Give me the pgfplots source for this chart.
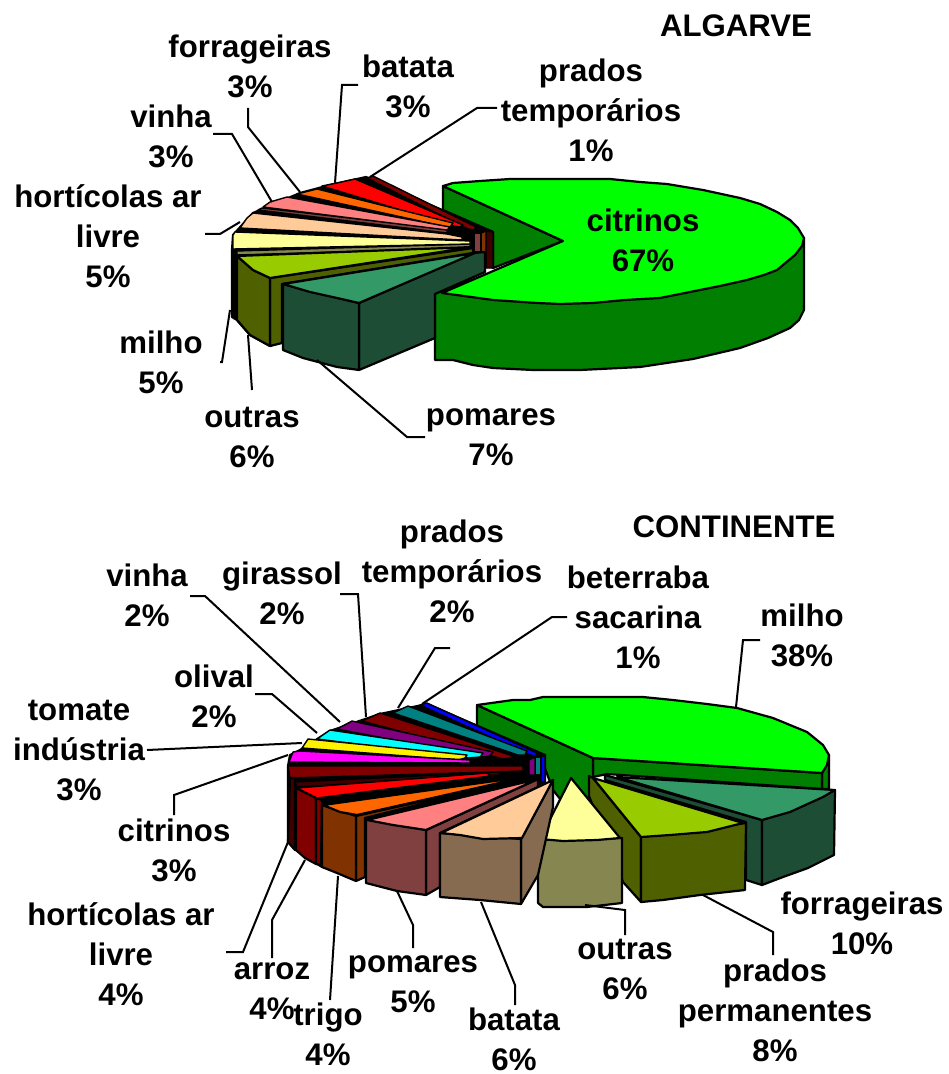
\documentclass[border=0pt]{standalone}
\usepackage{pgfplots}
\pgfplotsset{compat=1.18}
\usepackage{fontspec}
\setmainfont{Liberation Sans}
\definecolor{gtop}{HTML}{00FF00}
\definecolor{gwall}{HTML}{007F00}
\definecolor{teal1}{HTML}{339966}
\definecolor{teal2}{HTML}{1E4D36}
\definecolor{lime1}{HTML}{99CC00}
\definecolor{lime2}{HTML}{4F6000}
\definecolor{yel1}{HTML}{FFFF99}
\definecolor{yel2}{HTML}{868650}
\definecolor{pea1}{HTML}{FFCC99}
\definecolor{pea2}{HTML}{866B50}
\definecolor{pnk1}{HTML}{FF8080}
\definecolor{pnk2}{HTML}{804040}
\definecolor{org1}{HTML}{FF6600}
\definecolor{org2}{HTML}{803300}
\definecolor{drd}{HTML}{800000}
\definecolor{drd2}{HTML}{400000}
\definecolor{pur}{HTML}{800080}
\definecolor{tl}{HTML}{008080}
\definecolor{cy}{HTML}{00FFFF}
\definecolor{mg}{HTML}{FF00FF}
\pgfplotsset{
  face/.style={draw=black, line width=1.1pt, line join=round, mark=none, fill=#1},
  thin face/.style={draw=black, line width=0.7pt, line join=round, mark=none, fill=#1},
  lead/.style={draw=black, line width=1pt, mark=none, line join=miter},
}
\tikzset{lab/.style={font=\fontsize{15.6}{20}\selectfont\bfseries, align=center, inner sep=0pt, text=black}}
\begin{document}
\begin{tikzpicture}
\begin{axis}[
  scale only axis, width=474pt, height=537pt,
  xmin=0, xmax=948, ymin=0, ymax=1074,
  y dir=reverse, hide axis, clip=false,
]
\path (axis cs:0,0) rectangle (axis cs:948,1074);

% ---------- ALGARVE: citrinos
\addplot[face=gwall] coordinates {(435,293)(435,360)(453,360)(473,365)(493,368)(533,370)(580,370)(640,367)(693,359)(740,348)(768,338)(790,328)(799,320)(804,310)(804,238)(560,250)} --cycle;
\addplot[face=gwall] coordinates {(443,186)(563,241)(493,268)(493,232)(443,210)} --cycle;
\addplot[face=gtop] coordinates {(443,186)(453,183)(480,181)(510,179)(560,179)(610,179)(640,182)(667,184)(703,190)(740,198)(760,204)(777,212)(790,220)(798,228)(804,238)(802,246)(795,255)(777,270)(764,275)(747,280)(720,286)(690,292)(660,298)(625,300)(593,303)(560,304)(537,303)(493,300)(442,293)(563,241)} --cycle;

% fan behind the small slices
\addplot[face=black] coordinates {(232,250)(233,235)(253,213)(300,193)(330,185)(366,177)(493,232)(493,268)(473,253)(270,346)(250,335)(237,320)(232,317)} --cycle;
\addplot[thin face=drd2] coordinates {(486,231)(493,232)(493,268)(486,268)} --cycle;
\addplot[thin face=org2] coordinates {(481,233)(486,231)(486,268)(481,268)} --cycle;
\addplot[thin face=pnk2] coordinates {(474,233)(481,233)(481,252)(474,252)} --cycle;
\addplot[thin face=drd] coordinates {(367,178)(373,176)(476,227)(474,230)(468,229)} --cycle;
\addplot[thin face=red] coordinates {(322,186)(337,183)(355,179)(463,225)(460,227)(453,226)} --cycle;
\addplot[thin face=org1] coordinates {(297,194)(317,189)(453,223)(450,227)(447,227)} --cycle;
\addplot[thin face=pnk2] coordinates {(258,210)(262,208)(447,229)(447,233)} --cycle;
\addplot[thin face=pnk1] coordinates {(263,207)(270,202)(287,197)(450,227)(447,230)} --cycle;
\addplot[thin face=pea1] coordinates {(240,228)(247,218)(253,213)(447,234)(462,237)(462,240)} --cycle;
\addplot[thin face=yel2] coordinates {(237,251)(470,244)(470,248)(237,255)} --cycle;
\addplot[thin face=yel1] coordinates {(233,249)(233,235)(235,232)(470,241)(470,244)} --cycle;
\addplot[face=lime2] coordinates {(270,278)(473,248)(473,253)(282,284)(282,343)(270,346)} --cycle;
\addplot[face=lime2] coordinates {(237,256)(253,270)(270,278)(270,346)(250,335)(237,320)} --cycle;
\addplot[face=lime1] coordinates {(237,256)(473,247)(270,278)(253,270)} --cycle;
\addplot[face=teal2] coordinates {(359,303)(473,253)(485,252)(485,272)(435,294)(435,338)(359,370)} --cycle;
\addplot[face=teal2] coordinates {(283,284)(283,350)(303,358)(337,367)(359,370)(359,303)} --cycle;
\addplot[face=teal1] coordinates {(283,284)(310,292)(337,298)(359,303)(475,253)} --cycle;

% leaders
\addplot[lead] coordinates {(248,108)(248,127)(300,192)};
\addplot[lead] coordinates {(213,134)(232,134)(272,202)};
\addplot[lead] coordinates {(358,85)(342,85)(335,183)};
\addplot[lead] coordinates {(497,108)(477,108)(370,177)};
\addplot[lead] coordinates {(205,234)(220,234)(240,222)};
\addplot[lead] coordinates {(220,362)(222,362)(230,310)};
\addplot[lead] coordinates {(252,390)(248,335)};
\addplot[lead] coordinates {(425,437)(407,437)(317,360)};

\node[lab] at (axis cs:736,26) {ALGARVE};
\node[lab] at (axis cs:250,66) {forrageiras\\3\%};
\node[lab] at (axis cs:408,86) {batata\\3\%};
\node[lab] at (axis cs:591,110) {prados\\temporários\\1\%};
\node[lab] at (axis cs:171,136) {vinha\\3\%};
\node[lab] at (axis cs:108,236) {hortícolas ar\\livre\\5\%};
\node[lab] at (axis cs:643,240) {citrinos\\67\%};
\node[lab] at (axis cs:161,362) {milho\\5\%};
\node[lab] at (axis cs:252,437) {outras\\6\%};
\node[lab] at (axis cs:491,437) {pomares\\7\%};

% ---------- CONTINENTE: milho
\addplot[face=gwall] coordinates {(822,773)(822,789)(829,789)(829,755)} --cycle;
\addplot[face=gwall] coordinates {(593,758)(822,773)(822,789)(607,774)(593,777)} --cycle;
\addplot[face=gwall] coordinates {(477,705)(593,758)(593,785)(590,800)(565,805)(553,790)(540,755)(477,727)} --cycle;
\addplot[face=gtop] coordinates {(477,705)(513,700)(530,700)(543,697)(643,697)(673,700)(707,704)(737,708)(773,718)(807,732)(823,745)(829,755)(827,765)(822,773)(593,758)} --cycle;

% fan behind the small slices
\addplot[face=black] coordinates {(288,766)(290,755)(300,750)(330,731)(380,714)(427,704)(545,755)(545,782)(322,867)(296,850)(288,842)} --cycle;
\addplot[thin face=blue] coordinates {(541,757)(545,755)(545,782)(541,782)} --cycle;
\addplot[thin face=tl] coordinates {(535,757)(541,757)(541,775)(535,775)} --cycle;
\addplot[thin face=pur] coordinates {(529,760)(535,757)(535,775)(529,775)} --cycle;
\addplot[thin face=blue] coordinates {(420,705)(427,703)(537,753)(535,756)(530,755)} --cycle;
\addplot[thin face=tl] coordinates {(393,713)(408,706)(527,751)(525,755)(518,755)} --cycle;
\addplot[thin face=drd] coordinates {(362,721)(380,713)(513,756)(510,758)(503,759)} --cycle;
\addplot[thin face=pur] coordinates {(337,729)(352,721)(493,752)(490,756)(483,757)} --cycle;
\addplot[thin face=cy] coordinates {(317,739)(330,730)(483,753)(480,757)(468,758)} --cycle;
\addplot[thin face=yellow] coordinates {(302,748)(308,739)(467,755)(465,758)(458,760)} --cycle;
\addplot[thin face=mg] coordinates {(289,762)(293,752)(300,751)(470,760)(470,763)} --cycle;
\addplot[thin face=drd] coordinates {(288,766)(523,766)(523,771)(290,778)} --cycle;
\addplot[face=drd2] coordinates {(290,778)(295,778)(295,850)(288,842)} --cycle;
\addplot[thin face=drd2] coordinates {(295,782)(500,772)(500,775)(297,787)} --cycle;
\addplot[face=drd] coordinates {(296,788)(316,798)(316,864)(305,858)(296,850)} --cycle;
\addplot[face=drd] coordinates {(316,798)(322,800)(321,865)(316,864)} --cycle;
\addplot[thin face=red] coordinates {(297,788)(487,773)(490,776)(317,798)} --cycle;
\addplot[face=org2] coordinates {(356,816)(530,777)(365,818)(365,877)(356,881)} --cycle;
\addplot[face=org2] coordinates {(322,805)(356,816)(356,881)(337,873)(322,867)} --cycle;
\addplot[face=org1] coordinates {(323,805)(340,812)(357,815)(530,776)} --cycle;

\addplot[face=teal2] coordinates {(605,775)(762,820)(762,885)(746,880)(746,822)(605,780)} --cycle;
\addplot[face=teal2] coordinates {(762,820)(835,790)(834,855)(808,868)(783,877)(762,885)} --cycle;
\addplot[face=teal1] coordinates {(617,777)(835,790)(823,797)(790,812)(762,820)} --cycle;
\addplot[face=lime2] coordinates {(589,776)(593,778)(641,837)(641,902)(623,882)(589,796)} --cycle;
\addplot[face=lime2] coordinates {(641,837)(746,823)(745,890)(700,895)(663,900)(641,902)} --cycle;
\addplot[face=lime1] coordinates {(593,778)(743,823)(707,832)(670,835)(641,837)} --cycle;
\addplot[face=yel2] coordinates {(538,840)(622,838)(622,903)(587,907)(543,907)(538,903)} --cycle;
\addplot[face=yel1] coordinates {(571,778)(620,838)(597,840)(563,841)(540,839)} --cycle;

\addplot[face=pnk2] coordinates {(426,830)(538,779)(538,787)(440,833)(440,887)(426,895)} --cycle;
\addplot[face=pnk2] coordinates {(366,818)(426,830)(426,895)(397,891)(366,883)} --cycle;
\addplot[face=pnk1] coordinates {(367,820)(393,825)(426,830)(538,779)} --cycle;
\addplot[face=pea2] coordinates {(521,839)(553,780)(553,807)(538,875)(521,904)} --cycle;
\addplot[face=pea2] coordinates {(440,833)(521,839)(521,904)(480,900)(440,897)} --cycle;
\addplot[face=pea1] coordinates {(441,833)(460,835)(483,839)(522,838)(553,780)} --cycle;

% leaders
\addplot[lead] coordinates {(190,596)(205,596)(340,722)};
\addplot[lead] coordinates {(255,694)(272,694)(317,733)};
\addplot[lead] coordinates {(340,594)(358,594)(366,717)};
\addplot[lead] coordinates {(450,648)(435,648)(398,708)};
\addplot[lead] coordinates {(567,617)(552,617)(422,704)};
\addplot[lead] coordinates {(760,640)(743,640)(736,707)};
\addplot[lead] coordinates {(147,750)(302,743)};
\addplot[lead] coordinates {(174,815)(174,795)(288,755)};
\addplot[lead] coordinates {(226,952)(243,952)(288,842)};
\addplot[lead] coordinates {(272,958)(272,920)(305,860)};
\addplot[lead] coordinates {(330,1000)(338,876)};
\addplot[lead] coordinates {(413,948)(413,925)(397,891)};
\addplot[lead] coordinates {(515,1005)(515,985)(481,902)};
\addplot[lead] coordinates {(625,935)(625,910)(585,905)};
\addplot[lead] coordinates {(773,955)(773,932)(703,895)};

\node[lab] at (axis cs:734,527) {CONTINENTE};
\node[lab] at (axis cs:452,571) {prados\\temporários\\2\%};
\node[lab] at (axis cs:638,617) {beterraba\\sacarina\\1\%};
\node[lab] at (axis cs:802,635) {milho\\38\%};
\node[lab] at (axis cs:147,595) {vinha\\2\%};
\node[lab] at (axis cs:282,593) {girassol\\2\%};
\node[lab] at (axis cs:214,696) {olival\\2\%};
\node[lab] at (axis cs:79,750) {tomate\\indústria\\3\%};
\node[lab] at (axis cs:174,850) {citrinos\\3\%};
\node[lab] at (axis cs:121,954) {hortícolas ar\\livre\\4\%};
\node[lab] at (axis cs:272,991) {arroz\\4\%};
\node[lab] at (axis cs:328,1034) {trigo\\4\%};
\node[lab] at (axis cs:413,984) {pomares\\5\%};
\node[lab] at (axis cs:514,1039) {batata\\6\%};
\node[lab] at (axis cs:625,969) {outras\\6\%};
\node[lab] at (axis cs:775,1010) {prados\\permanentes\\8\%};
\node[lab] at (axis cs:862,923) {forrageiras\\10\%};
\end{axis}
\end{tikzpicture}
\end{document}
